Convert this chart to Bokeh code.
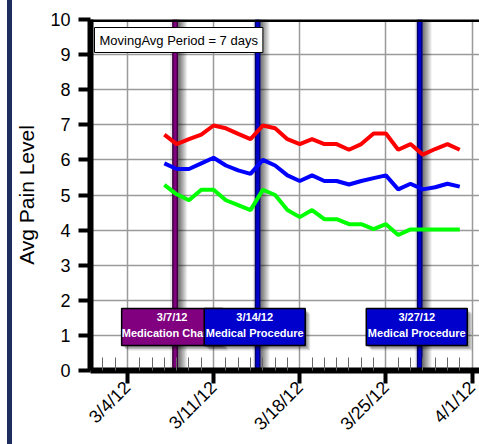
import math
import pandas as pd
from bokeh.plotting import figure
from bokeh.models import Range1d, FixedTicker, Span, Label, Div
from bokeh.layouts import row
from bokeh.core.properties import value
from bokeh.embed import file_html
from bokeh.resources import INLINE

# ---------------- data ----------------
dates = ["2012-03-07", "2012-03-08", "2012-03-09", "2012-03-10", "2012-03-11",
         "2012-03-12", "2012-03-13", "2012-03-14", "2012-03-15", "2012-03-16",
         "2012-03-17", "2012-03-18", "2012-03-19", "2012-03-20", "2012-03-21",
         "2012-03-22", "2012-03-23", "2012-03-24", "2012-03-25", "2012-03-26",
         "2012-03-27", "2012-03-28", "2012-03-29", "2012-03-30", "2012-03-31"]
red_vals = [6.72, 6.45, 6.59, 6.72, 6.98, 6.9, 6.74, 6.59, 6.98, 6.9,
            6.59, 6.45, 6.59, 6.45, 6.45, 6.29, 6.45, 6.75, 6.75, 6.29,
            6.45, 6.15, 6.31, 6.45, 6.29]
blue_vals = [5.9, 5.74, 5.74, 5.9, 6.06, 5.84, 5.7, 5.6, 6.0, 5.84,
             5.56, 5.4, 5.56, 5.4, 5.4, 5.3, 5.4, 5.48, 5.56, 5.16,
             5.32, 5.16, 5.22, 5.32, 5.24]
green_vals = [5.29, 5.02, 4.85, 5.15, 5.15, 4.85, 4.71, 4.57, 5.15, 5.0,
              4.57, 4.37, 4.57, 4.31, 4.31, 4.17, 4.17, 4.03, 4.17, 3.86,
              4.02, 4.02, 4.02, 4.02, 4.02]

tick_dates = ["2012-03-04", "2012-03-11", "2012-03-18", "2012-03-25", "2012-04-01"]
tick_labels = ["3/4/12", "3/11/12", "3/18/12", "3/25/12", "4/1/12"]
y_ticks = [0, 1, 2, 3, 4, 5, 6, 7, 8, 9, 10]

event_times = ["2012-03-07 21:00", "2012-03-14 14:00", "2012-03-27 18:00"]
event_dates_text = ["3/7/12", "3/14/12", "3/27/12"]
event_names = ["Medication Change", "Medical Procedure", "Medical Procedure"]
event_fill = ["#800080", "#0000CC", "#0000CC"]
event_edge = ["#3c003c", "#000066", "#000066"]

period_text = "MovingAvg Period = 7 days"
y_label = "Avg Pain Level"

x_start = "2012-03-01 00:00"
x_end = "2012-04-01 14:30"

# ---------------- helpers ----------------
base = pd.Timestamp(x_start)


def day(s):
    return (pd.Timestamp(s) - base) / pd.Timedelta(days=1)


xs = [day(d) for d in dates]
x0, x1 = 0.0, day(x_end)
tick_x = [int(round(day(d))) for d in tick_dates]
ev_x = [day(t) for t in event_times]

FONT = "Liberation Sans"
FIG_W, FIG_H = 467, 444
B_LEFT, B_TOP, B_BOTTOM = 76, 19, 74
frame_w = FIG_W - B_LEFT
frame_h = FIG_H - B_TOP - B_BOTTOM
px_x = (x1 - x0) / frame_w          # days per pixel
px_y = 10.0 / frame_h               # units per pixel

p = figure(width=FIG_W, height=FIG_H, output_backend="svg", toolbar_location=None,
           x_range=Range1d(x0, x1), y_range=Range1d(0, 10),
           min_border_left=B_LEFT, min_border_right=0,
           min_border_top=B_TOP, min_border_bottom=B_BOTTOM)
p.outline_line_color = None
p.background_fill_color = "white"
p.border_fill_color = "white"

# grid
p.xgrid.grid_line_color = "#9a9a9a"
p.xgrid.grid_line_width = 1.5
p.ygrid.grid_line_color = "#9a9a9a"
p.ygrid.grid_line_width = 1.5

# x axis
minor = [d for d in range(0, 33) if d not in tick_x]
p.xaxis.ticker = FixedTicker(ticks=tick_x, minor_ticks=minor)
p.xaxis.major_label_overrides = {t: l for t, l in zip(tick_x, tick_labels)}
p.xaxis.axis_line_width = 6
p.xaxis.axis_line_color = "black"
p.xaxis.major_tick_out = 13
p.xaxis.major_tick_in = 0
p.xaxis.major_tick_line_width = 4
p.xaxis.minor_tick_in = 13
p.xaxis.minor_tick_out = 0
p.xaxis.minor_tick_line_color = "#666666"
p.xaxis.minor_tick_line_width = 1
p.xaxis.major_label_orientation = math.pi / 4
p.xaxis.major_label_text_font = FONT
p.xaxis.major_label_text_font_size = "18px"
p.xaxis.major_label_text_color = "black"
p.xaxis.major_label_standoff = 1

# y axis
p.yaxis.ticker = FixedTicker(ticks=y_ticks, minor_ticks=[])
p.yaxis.axis_line_width = 6
p.yaxis.axis_line_color = "black"
p.yaxis.major_tick_out = 12
p.yaxis.major_tick_in = 0
p.yaxis.major_tick_line_width = 4
p.yaxis.major_label_text_font = FONT
p.yaxis.major_label_text_font_size = "18px"
p.yaxis.major_label_text_color = "black"
p.yaxis.major_label_standoff = 8
p.yaxis.axis_label = y_label
p.yaxis.axis_label_text_font = FONT
p.yaxis.axis_label_text_font_size = "21px"
p.yaxis.axis_label_text_font_style = "normal"
p.yaxis.axis_label_text_color = "black"
p.yaxis.axis_label_standoff = 9

# top border
p.add_layout(Span(location=10, dimension="width", line_color="black",
                  line_width=5, level="overlay"))

# event lines with shadows
for ev, fill, edge in zip(ev_x, event_fill, event_edge):
    p.add_layout(Span(location=ev - 4 * px_x, dimension="height", line_color="black",
                      line_alpha=0.08, line_width=2, level="underlay"))
    for k in range(9):
        p.add_layout(Span(location=ev + (3.5 + k) * px_x, dimension="height",
                          line_color="black", line_alpha=0.5 * (1 - k / 9.0),
                          line_width=1.2, level="underlay"))
    p.add_layout(Span(location=ev, dimension="height", line_color=edge,
                      line_width=6, level="underlay"))
    p.add_layout(Span(location=ev, dimension="height", line_color=fill,
                      line_width=3, level="underlay"))

# data lines
p.line(xs, red_vals, line_color="#FF0000", line_width=4)
p.line(xs, blue_vals, line_color="#0000FF", line_width=4)
p.line(xs, green_vals, line_color="#00FF00", line_width=4)

# event boxes (centred a few pixels left of the event line)
BOX_Y = 1.24
BOX_W, BOX_H = 101, 37
BOX_SHIFT = -3 * px_x
for ev, dt, name, fill in zip(ev_x, event_dates_text, event_names, event_fill):
    bx = ev + BOX_SHIFT
    for s, a in ((5, 0.12), (3.5, 0.18), (2, 0.2)):
        p.rect(x=[bx + s * px_x], y=[BOX_Y - s * px_y], width=BOX_W, height=BOX_H,
               width_units="screen", height_units="screen",
               fill_color="black", fill_alpha=a, line_color=None)
    p.rect(x=[bx], y=[BOX_Y], width=BOX_W, height=BOX_H,
           width_units="screen", height_units="screen",
           fill_color=fill, line_color="black", line_width=1.5)
    p.text(x=[bx], y=[BOX_Y], text=[dt], y_offset=-10,
           text_align="center", text_baseline="middle",
           text_font=value(FONT), text_font_style="bold",
           text_font_size="11px", text_color="white")
    p.text(x=[bx], y=[BOX_Y], text=[name], y_offset=6,
           text_align="center", text_baseline="middle",
           text_font=value(FONT), text_font_style="bold",
           text_font_size="11px", text_color="white")

# period label (with soft shadow)
p.add_layout(Label(x=4, y=frame_h - 8, x_units="screen", y_units="screen",
                   text=period_text, text_alpha=0, x_offset=3, y_offset=-1,
                   text_font=FONT, text_font_size="13px",
                   text_align="left", text_baseline="top",
                   background_fill_color="black", background_fill_alpha=0.2,
                   padding=5))
p.add_layout(Label(x=4, y=frame_h - 8, x_units="screen", y_units="screen",
                   text=period_text, text_color="black",
                   text_font=FONT, text_font_size="13px",
                   text_align="left", text_baseline="top",
                   background_fill_color="white", border_line_color="black",
                   border_line_width=1, padding=5))

bar = Div(text="", width=5, height=FIG_H, margin=(0, 0, 0, 7),
          styles={"background-color": "#1c2d5e"})
layout = row(bar, p, spacing=0)

open("out.html", "w").write(file_html(layout, INLINE))
